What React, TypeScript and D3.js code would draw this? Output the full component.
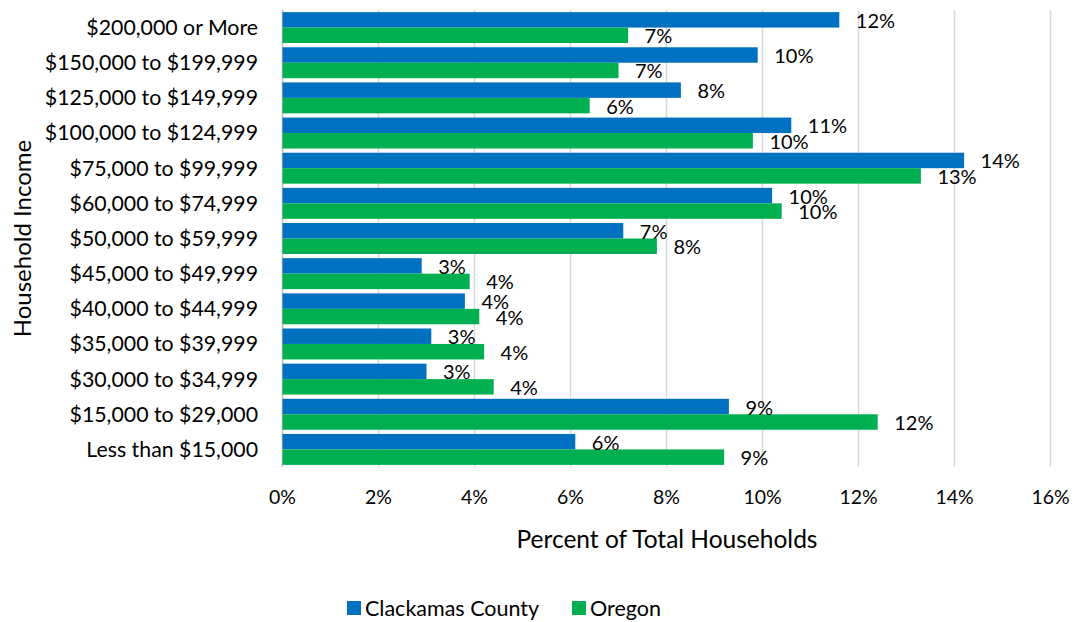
import React from "react";
import * as d3 from "d3";

// Income brackets, top to bottom as shown.
const categories = [
    "$200,000 or More",
    "$150,000 to $199,999",
    "$125,000 to $149,999",
    "$100,000 to $124,999",
    "$75,000 to $99,999",
    "$60,000 to $74,999",
    "$50,000 to $59,999",
    "$45,000 to $49,999",
    "$40,000 to $44,999",
    "$35,000 to $39,999",
    "$30,000 to $34,999",
    "$15,000 to $29,000",
    "Less than $15,000",
];

// Percent of total households.
const clackamas = [11.6, 9.9, 8.3, 10.6, 14.2, 10.2, 7.1, 2.9, 3.8, 3.1, 3.0, 9.3, 6.1];
const oregon = [7.2, 7.0, 6.4, 9.8, 13.3, 10.4, 7.8, 3.9, 4.1, 4.2, 4.4, 12.4, 9.2];

const seriesNames = ["Clackamas County", "Oregon"];
const seriesColors = ["#0070C0", "#00B050"];

const xTicks = [0, 2, 4, 6, 8, 10, 12, 14, 16];

const WIDTH = 1076;
const HEIGHT = 622;
const FONT = "Lato, 'Open Sans', sans-serif";

export default function App() {
    const x = d3.scaleLinear().domain([0, 16]).range([282.5, 1050.5]);

    const y = d3.scaleBand<string>()
        .domain(categories)
        .range([10, 467])
        .paddingInner(0.12)
        .paddingOuter(0.06);

    const sub = d3.scaleBand<string>()
        .domain(seriesNames)
        .range([0, y.bandwidth()]);

    const values = [clackamas, oregon];
    const [plotTop, plotBottom] = y.range();

    return (
        <svg
            width={WIDTH}
            height={HEIGHT}
            style={{ position: "absolute", left: 0, top: 0, background: "#fff" }}
            fontFamily={FONT}
        >
            {/* gridlines */}
            <g>
                {xTicks.map((t) => (
                    <line
                        key={t}
                        x1={x(t)}
                        x2={x(t)}
                        y1={plotTop}
                        y2={plotBottom}
                        stroke={t === 0 ? "#bfbfbf" : "#d9d9d9"}
                        strokeWidth={1.5}
                    />
                ))}
            </g>

            {/* bars */}
            {seriesNames.map((name, si) => (
                <g key={name}>
                    {categories.map((cat, i) => (
                        <rect
                            key={cat}
                            x={x(0)}
                            y={(y(cat) ?? 0) + (sub(name) ?? 0)}
                            width={x(values[si][i]) - x(0)}
                            height={sub.bandwidth()}
                            fill={seriesColors[si]}
                        />
                    ))}
                </g>
            ))}

            {/* data labels */}
            {seriesNames.map((name, si) => (
                <g key={name + "-labels"} fontSize={20} fill="#000">
                    {categories.map((cat, i) => (
                        <text
                            key={cat}
                            x={x(values[si][i]) + 16.5}
                            y={(y(cat) ?? 0) + (sub(name) ?? 0) + sub.bandwidth() / 2 + 1}
                            dy="0.35em"
                        >
                            {Math.round(values[si][i]) + "%"}
                        </text>
                    ))}
                </g>
            ))}

            {/* category axis */}
            <g fontSize={21.3} textAnchor="end" fill="#000">
                {categories.map((cat) => (
                    <text key={cat} x={258} y={(y(cat) ?? 0) + y.bandwidth() / 2} dy="0.35em">
                        {cat}
                    </text>
                ))}
            </g>

            {/* value axis */}
            <g fontSize={19.5} textAnchor="middle" fill="#000">
                {xTicks.map((t) => (
                    <text key={t} x={x(t)} y={497} dy="0.35em">
                        {t + "%"}
                    </text>
                ))}
            </g>

            {/* axis titles */}
            <text x={667} y={539} dy="0.35em" textAnchor="middle" fontSize={24.5}>
                Percent of Total Households
            </text>
            <text
                transform={`translate(23,${(plotTop + plotBottom) / 2}) rotate(-90)`}
                dy="0.35em"
                textAnchor="middle"
                fontSize={24}
            >
                Household Income
            </text>

            {/* legend */}
            <g fontSize={21.5}>
                {seriesNames.map((name, si) => {
                    const lx = si === 0 ? 347 : 572;
                    return (
                        <g key={name} transform={`translate(${lx},608)`}>
                            <rect x={0} y={-7} width={14} height={14} fill={seriesColors[si]} />
                            <text x={18} y={0} dy="0.35em">{name}</text>
                        </g>
                    );
                })}
            </g>
        </svg>
    );
}
